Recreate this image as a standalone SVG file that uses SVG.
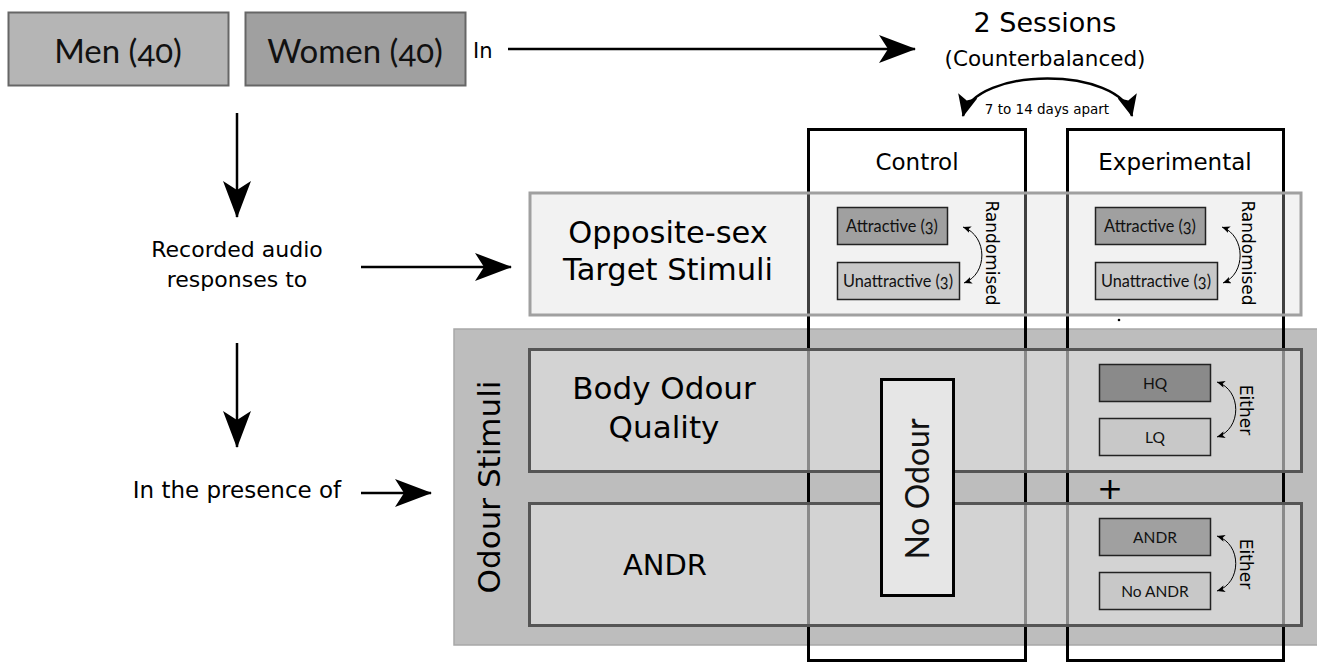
<svg xmlns="http://www.w3.org/2000/svg" width="1317" height="662" viewBox="0 0 1317 662">
  <style>
    .v { font-family: "DejaVu Sans", Verdana, sans-serif; fill: #000; }
    .c { font-family: Lato, "Noto Sans", sans-serif; fill: #111; font-variant-numeric: oldstyle-nums; }
    .mid { text-anchor: middle; }
    .group-box { stroke: #666; stroke-width: 2; }
    .small-box { stroke: #222; stroke-width: 1.5; }
    .row-box { fill: #e1e1e1; fill-opacity: 0.61; stroke: #555; stroke-width: 3; }
    .col-frame { fill: none; stroke: #000; stroke-width: 3; }
    .conn { fill: none; stroke: #000; stroke-width: 2.5; }
    .thin { fill: none; stroke: #000; stroke-width: 1; }
  </style>
  <defs>
    <marker id="head" markerUnits="userSpaceOnUse" viewBox="0 0 37 28" refX="36" refY="14" markerWidth="37" markerHeight="28" orient="auto">
      <path d="M0,0 L37,14 L0,28 L9,14 Z" fill="#000"/>
    </marker>
    <marker id="headMid" markerUnits="userSpaceOnUse" viewBox="0 0 22 20" refX="21" refY="10" markerWidth="22" markerHeight="20" orient="auto-start-reverse">
      <path d="M0,0 L22,10 L0,20 L5,10 Z" fill="#000"/>
    </marker>
    <marker id="headSmall" markerUnits="userSpaceOnUse" viewBox="0 0 8 7" refX="8" refY="3.5" markerWidth="8" markerHeight="7" orient="auto-start-reverse">
      <path d="M0,0 L8,3.5 L0,7 L2,3.5 Z" fill="#000"/>
    </marker>
  </defs>

  <rect width="1317" height="662" fill="#fff"/>

  <!-- participant groups -->
  <g id="men">
    <rect class="group-box" x="8.5" y="12.5" width="220" height="73" fill="#b5b5b5"/>
    <text class="c mid" x="118" y="63" font-size="33">Men (40)</text>
  </g>
  <g id="women">
    <rect class="group-box" x="245.5" y="12.5" width="220" height="73" fill="#a0a0a0"/>
    <text class="c mid" x="355" y="63" font-size="33">Women (40)</text>
  </g>

  <!-- sessions header -->
  <g id="sessions">
    <text class="v mid" x="1045" y="32" font-size="27">2 Sessions</text>
    <text class="v mid" x="1045" y="66" font-size="21.5">(Counterbalanced)</text>
    <text class="v mid" x="1047" y="114" font-size="13.5">7 to 14 days apart</text>
  </g>

  <!-- flow labels -->
  <g id="labels">
    <text class="v" x="473" y="58" font-size="21">In</text>
    <text class="v mid" x="237" y="257" font-size="22">Recorded audio</text>
    <text class="v mid" x="237" y="287" font-size="22">responses to</text>
    <text class="v mid" x="237" y="498" font-size="23">In the presence of</text>
  </g>

  <!-- odour stimuli band (behind the session columns) -->
  <g id="odour-stimuli">
    <rect x="454" y="329" width="880" height="316" fill="#bdbdbd" stroke="#a8a8a8" stroke-width="1.5"/>
    <text class="v mid" transform="translate(500,487) rotate(-90)" font-size="31">Odour Stimuli</text>
  </g>

  <!-- session columns -->
  <g id="control">
    <rect class="col-frame" x="808.5" y="129.5" width="217" height="531"/>
    <text class="v mid" x="917" y="170" font-size="23">Control</text>
  </g>
  <g id="experimental">
    <rect class="col-frame" x="1067.5" y="129.5" width="216" height="531"/>
    <text class="v mid" x="1175" y="170" font-size="23">Experimental</text>
  </g>

  <!-- target stimuli band -->
  <g id="target-stimuli">
    <rect x="530" y="193" width="771" height="122" fill="#d3d3d3" fill-opacity="0.3" stroke="#a0a0a0" stroke-width="3"/>
    <text class="v mid" x="668" y="243" font-size="30.5">Opposite-sex</text>
    <text class="v mid" x="668" y="280" font-size="30.5">Target Stimuli</text>
  </g>

  <!-- odour rows -->
  <g id="body-odour-quality">
    <rect class="row-box" x="529.5" y="349.5" width="772" height="122"/>
    <text class="v mid" x="664" y="399" font-size="31">Body Odour</text>
    <text class="v mid" x="664" y="438" font-size="31">Quality</text>
  </g>
  <g id="andr">
    <rect class="row-box" x="529.5" y="503.5" width="772" height="122"/>
    <text class="v mid" x="665" y="575" font-size="29">ANDR</text>
  </g>

  <g id="no-odour">
    <rect x="881.5" y="379.5" width="72" height="216" fill="#e6e6e6" stroke="#000" stroke-width="3"/>
    <text class="c mid" transform="translate(929,489) rotate(-90)" font-size="32">No Odour</text>
  </g>

  <!-- control target stimuli -->
  <g id="control-attractive">
    <rect class="small-box" x="837.5" y="207.5" width="110" height="37" fill="#a0a0a0"/>
    <text class="c mid" x="892" y="232" font-size="16.3">Attractive (3)</text>
  </g>
  <g id="control-unattractive">
    <rect class="small-box" x="837.5" y="262.5" width="122" height="37" fill="#c8c8c8"/>
    <text class="c mid" x="898" y="287" font-size="16.3">Unattractive (3)</text>
  </g>
  <g id="control-randomised">
    <text class="v mid" transform="translate(986,253) rotate(90)" font-size="17">Randomised</text>
  </g>

  <!-- experimental target stimuli -->
  <g id="exp-attractive">
    <rect class="small-box" x="1095.5" y="207.5" width="110" height="37" fill="#a0a0a0"/>
    <text class="c mid" x="1150" y="232" font-size="16.3">Attractive (3)</text>
  </g>
  <g id="exp-unattractive">
    <rect class="small-box" x="1095.5" y="262.5" width="122" height="37" fill="#c8c8c8"/>
    <text class="c mid" x="1156" y="287" font-size="16.3">Unattractive (3)</text>
  </g>
  <g id="exp-randomised">
    <text class="v mid" transform="translate(1242,253) rotate(90)" font-size="17">Randomised</text>
  </g>
  <circle cx="1119" cy="320" r="1.3" fill="#000"/>

  <!-- experimental odour conditions -->
  <g id="hq">
    <rect class="small-box" x="1099.5" y="364.5" width="111" height="37" fill="#8a8a8a"/>
    <text class="c mid" x="1155" y="389" font-size="15.5">HQ</text>
  </g>
  <g id="lq">
    <rect class="small-box" x="1099.5" y="418.5" width="111" height="37" fill="#c8c8c8"/>
    <text class="c mid" x="1155" y="443" font-size="15.5">LQ</text>
  </g>
  <g id="either-quality">
    <text class="v mid" transform="translate(1240,410) rotate(90)" font-size="17">Either</text>
  </g>
  <text class="v mid" x="1110" y="499" font-size="31">+</text>
  <g id="andr-on">
    <rect class="small-box" x="1099.5" y="518.5" width="111" height="37" fill="#a0a0a0"/>
    <text class="c mid" x="1155" y="543" font-size="15.5">ANDR</text>
  </g>
  <g id="andr-off">
    <rect class="small-box" x="1099.5" y="572.5" width="111" height="37" fill="#c8c8c8"/>
    <text class="c mid" x="1155" y="597" font-size="15.5">No ANDR</text>
  </g>
  <g id="either-andr">
    <text class="v mid" transform="translate(1240,564) rotate(90)" font-size="17">Either</text>
  </g>

  <!-- connectors -->
  <g id="connectors">
    <path class="conn" d="M508,49 H915" marker-end="url(#head)"/>
    <path class="conn" d="M237,113 V217" marker-end="url(#head)"/>
    <path class="conn" d="M361,267 H511" marker-end="url(#head)"/>
    <path class="conn" d="M237,343 V447" marker-end="url(#head)"/>
    <path class="conn" d="M361,493 H431" marker-end="url(#head)"/>
    <path class="conn" d="M963,116 C975,66 1120,66 1132,116" marker-start="url(#headMid)" marker-end="url(#headMid)"/>
    <path class="thin" d="M963,227 C988,236 988,274 964,283" marker-start="url(#headSmall)" marker-end="url(#headSmall)"/>
    <path class="thin" d="M1222,227 C1246,236 1246,274 1223,283" marker-start="url(#headSmall)" marker-end="url(#headSmall)"/>
    <path class="thin" d="M1217,382 C1242,390 1242,429 1217,437" marker-start="url(#headSmall)" marker-end="url(#headSmall)"/>
    <path class="thin" d="M1217,536 C1242,544 1242,583 1217,591" marker-start="url(#headSmall)" marker-end="url(#headSmall)"/>
  </g>
</svg>
